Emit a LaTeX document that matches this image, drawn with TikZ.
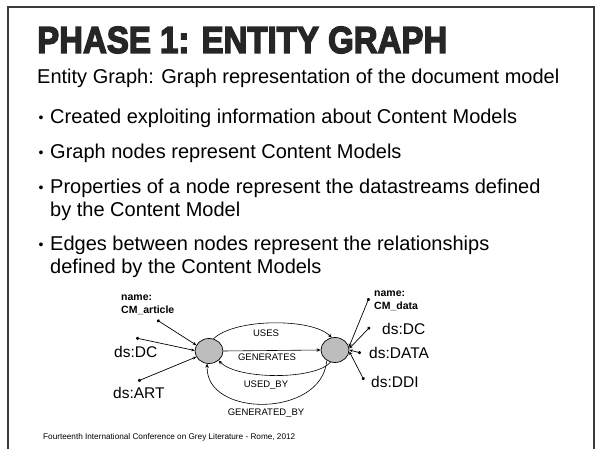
\documentclass[tikz,border=0pt]{standalone}
\usepackage{fontspec}
\setmainfont{Liberation Sans}
\newfontfamily\titlefont[FakeBold=4]{Liberation Sans Bold}
\usetikzlibrary{arrows.meta,shapes.geometric}
\definecolor{framegray}{HTML}{3A3A3A}
\definecolor{nodegray}{HTML}{BDBDBD}
\begin{document}
\begin{tikzpicture}[x=1pt,y=-1pt,
  entity/.style={ellipse,draw=black,fill=nodegray,line width=0.7pt,
    minimum width=28pt,minimum height=25pt,inner sep=0pt},
  rel/.style={draw=black,line width=0.6pt,-{Stealth[length=4pt,width=3.5pt]}},
  prop/.style={draw=black,line width=0.7pt,
    {Circle[length=3.2pt]}-{Stealth[length=3.5pt,width=3pt]}},
  rellabel/.style={font=\fontsize{9.5}{10}\selectfont,inner sep=1pt},
  namelabel/.style={font=\fontsize{10.5}{13}\selectfont\bfseries,align=left,anchor=west,inner sep=0pt},
  dslabel/.style={font=\fontsize{15.5}{16}\selectfont,anchor=west,inner sep=0pt},
  bodytext/.style={font=\fontsize{20}{22.5}\selectfont,anchor=west,align=left,inner sep=0pt},
  bulletmark/.style={font=\fontsize{14}{14}\selectfont,inner sep=0pt}]
\useasboundingbox (0,0) rectangle (595,449);
\fill[white] (0,0) rectangle (595,449);

% slide frame
\draw[framegray,line width=1.6pt] (8,449) -- (8,7) -- (594,7) -- (594,449);

% heading and text
\node[anchor=west,inner sep=0pt,font=\titlefont\fontsize{33}{36}\selectfont,text=black!85]
  (title) at (37,40) {\scalebox{1}[1.14]{PHASE 1: ENTITY GRAPH}};
\node[bodytext] (intro) at (37,78) {Entity Graph: Graph representation of the document model};

\node[bulletmark] (b1) at (41,119) {•};
\node[bodytext] (t1) at (50,118) {Created exploiting information about Content Models};
\node[bulletmark] (b2) at (41,154) {•};
\node[bodytext] (t2) at (50,153) {Graph nodes represent Content Models};
\node[bulletmark] (b3) at (41,189) {•};
\node[bodytext,anchor=north west] (t3) at (50,179) {Properties of a node represent the datastreams defined\\by the Content Model};
\node[bulletmark] (b4) at (41,246) {•};
\node[bodytext,anchor=north west] (t4) at (50,236) {Edges between nodes represent the relationships\\defined by the Content Models};

% entity graph
\node[entity] (L) at (209,351) {};
\node[entity] (R) at (335,350) {};

\draw[rel] (L.70) .. controls (235,318) and (312,318) .. (R.105);
\draw[rel] (L.east) -- (R.west);
\draw[rel] (R.250) .. controls (315,380) and (238,380) .. (L.-45);
\draw[rel] (R.232) .. controls (322,418) and (205,418) .. (L.262);

\node[rellabel] (uses) at (266,333) {USES};
\node[rellabel] (gen) at (267,357) {GENERATES};
\node[rellabel] (usedby) at (266,385) {USED\_BY};
\node[rellabel] (genby) at (266,413) {GENERATED\_BY};

% properties of the article model
\coordinate (pa1) at (157,320);
\coordinate (pa2) at (136,338);
\coordinate (pa3) at (138,381);
\draw[prop] (pa1) -- (L.155);
\draw[prop] (pa2) -- (L.178);
\draw[prop] (pa3) -- (L.205);
\node[namelabel] (na) at (121,305) {name:\\CM\_article};
\node[dslabel] (dsa1) at (114,352) {ds:DC};
\node[dslabel] (dsa2) at (113,393) {ds:ART};

% properties of the data model
\coordinate (pd1) at (369,298);
\coordinate (pd2) at (370,327);
\coordinate (pd3) at (361,353);
\coordinate (pd4) at (364,380);
\draw[prop] (pd1) -- (R.12);
\draw[prop] (pd2) -- (R.6);
\draw[prop] (pd3) -- (R.0);
\draw[prop] (pd4) -- (R.-6);
\node[namelabel] (nd) at (374,301) {name:\\CM\_data};
\node[dslabel] (dsd1) at (382,329) {ds:DC};
\node[dslabel] (dsd2) at (369,353) {ds:DATA};
\node[dslabel] (dsd3) at (371,382) {ds:DDI};

% footer
\node[anchor=west,inner sep=0pt,font=\fontsize{8.2}{9}\selectfont] (foot) at (43,437)
  {Fourteenth International Conference on Grey Literature - Rome, 2012};
\end{tikzpicture}
\end{document}
